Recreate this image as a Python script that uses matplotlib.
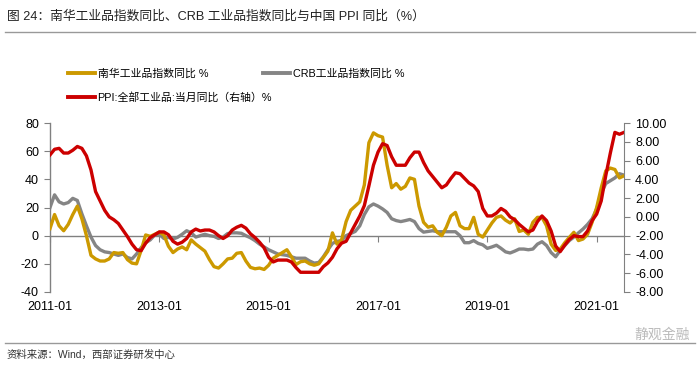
import numpy as np
import matplotlib.pyplot as plt
from matplotlib.lines import Line2D

plt.rcParams['font.family'] = ['Liberation Sans', 'Noto Sans CJK SC', 'DejaVu Sans']
plt.rcParams['axes.unicode_minus'] = False

# 月度数据 2011-01 ~ 2021-07
months = np.arange(127)
tick_pos = [0, 24, 48, 72, 96, 120]
tick_labels = ['2011-01', '2013-01', '2015-01', '2017-01', '2019-01', '2021-01']

# 南华工业品指数同比 %
nanhua = [5, 15, 7, 3.5, 8, 15, 21, 12, 0, -14, -16.5, -18,
          -18, -16.5, -12, -12.5, -12, -17, -19.5, -20, -10.5, 0.5, -0.5, 1,
          2.5, 0.5, -7.5, -12, -9.5, -8, -10, -3, -6, -8.5, -11, -17,
          -22, -23, -20, -16.5, -16, -12.5, -12, -18, -22.5, -23.5, -23, -24,
          -21, -16, -14, -12, -10, -15, -20.5, -18.5, -18, -20, -21, -20,
          -15.5, -11, 2, -6, -3, 10, 18, 21, 24, 36, 66, 73,
          71, 70, 50, 34, 37, 33, 35, 41, 40, 21, 9.5, 6,
          7, 2.4, 0, 6, 14, 16.5, 7, 5, 5, 13, 1, -1,
          4, 9, 13, 14, 11, 9, 12, 3, 4, 1, 9.5, 13,
          13, 7, -6, -10.5, -9.5, -5, -1.2, 2.4, -3.5, -2.4, 1, 9.5,
          20, 34, 46, 48, 47, 41, 42.5]

# CRB工业品指数同比 %
crb = [20, 29, 24, 22.5, 23.5, 26.5, 25, 15.5, 7, -1, -7, -10,
       -11.5, -12, -13, -14, -13, -15.5, -16.5, -13, -8.5, -5, -3, 0.5,
       1, -2, -1.2, -2.4, -1.2, 1, 3.5, 2, -1, 0, 1, 0,
       -0.5, -2, -1, 1.5, 2, 2, 1.7, 0, -1.5, -3.5, -6, -8,
       -10, -11.5, -13, -13.5, -14, -15, -16, -16, -16, -18, -19.5, -19,
       -15, -10, -5.5, -4, -3.5, 0, 1.5, 3, 7, 15, 20.5, 22.5,
       21, 19, 16.5, 12, 10.7, 10, 10.7, 11.5, 10, 5, 2.5, 3,
       3.5, 2.8, 2.8, 2.8, 2.8, 2.8, 0, -5, -5, -3.5, -5.5, -6.5,
       -9, -8, -6.8, -9, -11.5, -12.3, -11, -9.5, -9.5, -10, -9.5, -6,
       -4.3, -7, -12, -15, -10.5, -7, -3.5, -1, 2, 4.7, 8, 12,
       19, 30, 37, 39, 41, 44, 43]

# PPI:全部工业品:当月同比 %（右轴）
ppi = [6.6, 7.2, 7.3, 6.8, 6.8, 7.1, 7.5, 7.3, 6.5, 5.0, 2.7, 1.7,
       0.7, 0.0, -0.3, -0.7, -1.4, -2.1, -2.9, -3.5, -3.6, -2.8, -2.2, -1.9,
       -1.6, -1.6, -1.9, -2.6, -2.9, -2.7, -2.3, -1.6, -1.3, -1.5, -1.4, -1.4,
       -1.6, -2.0, -2.3, -2.0, -1.4, -1.1, -0.9, -1.2, -1.8, -2.2, -2.7, -3.3,
       -4.3, -4.8, -4.6, -4.6, -4.6, -4.8, -5.4, -5.9, -5.9, -5.9, -5.9, -5.9,
       -5.3, -4.9, -4.3, -3.4, -2.8, -2.6, -1.7, -0.8, 0.1, 1.2, 3.3, 5.5,
       6.9, 7.8, 7.6, 6.4, 5.5, 5.5, 5.5, 6.3, 6.9, 6.9, 5.8, 4.9,
       4.3, 3.7, 3.1, 3.4, 4.1, 4.7, 4.6, 4.1, 3.6, 3.3, 2.7, 0.9,
       0.1, 0.1, 0.4, 0.9, 0.6, 0.0, -0.3, -0.8, -1.2, -1.6, -1.4, -0.5,
       0.1, -0.4, -1.5, -3.1, -3.7, -3.0, -2.4, -2.0, -2.1, -2.1, -1.5, -0.4,
       0.3, 1.7, 4.4, 6.8, 9.0, 8.8, 9.0]

gold = '#CC9900'
grey = '#858585'
red = '#CC0000'
axis_c = '#808080'

fig = plt.figure(figsize=(7, 3.68), dpi=100)

# 标题与分隔线
fig.text(0.01, 0.955, '图 24：南华工业品指数同比、CRB 工业品指数同比与中国 PPI 同比（%）',
         fontsize=9.2, va='center', ha='left', color='#222222')
fig.add_artist(Line2D([0.007, 0.993], [0.913, 0.913], color='#999999', lw=1))
fig.add_artist(Line2D([0.007, 0.993], [0.068, 0.068], color='#999999', lw=1))
fig.text(0.01, 0.035, '资料来源：Wind，西部证券研发中心', fontsize=7.5, va='center',
         ha='left', color='#333333')
fig.text(0.985, 0.09, '静观金融', fontsize=10, va='center', ha='right', color='#bbbbbb')

ax = fig.add_axes([50 / 700, 1 - 292 / 368, 574 / 700, 169 / 368])
ax.plot(months, nanhua, color=gold, lw=2.4, zorder=3)
ax.plot(months, crb, color=grey, lw=2.4, zorder=2)
ax.set_xlim(0, 126)
ax.set_ylim(-40, 80)
ax.set_yticks(range(-40, 81, 20))
ax.set_xticks(tick_pos)
ax.set_xticklabels(tick_labels)
ax.spines['top'].set_visible(False)
ax.spines['right'].set_visible(False)
ax.spines['bottom'].set_position(('data', 0))
for s in ['left', 'bottom']:
    ax.spines[s].set_color(axis_c)
    ax.spines[s].set_linewidth(1)
ax.tick_params(axis='x', direction='out', length=4, color=axis_c, pad=43, labelsize=9)
ax.tick_params(axis='y', direction='out', length=4, color=axis_c, pad=4, labelsize=9)

ax2 = ax.twinx()
ax2.plot(months, ppi, color=red, lw=2.4)
ax2.set_ylim(-8, 10)
ax2.set_yticks(range(-8, 11, 2))
ax2.set_yticklabels(['%.2f' % v for v in range(-8, 11, 2)])
for s in ['top', 'left', 'bottom']:
    ax2.spines[s].set_visible(False)
ax2.spines['right'].set_color(axis_c)
ax2.tick_params(axis='y', direction='out', length=4, color=axis_c, pad=4, labelsize=9)

handles = [Line2D([], [], color=gold, lw=2.8), Line2D([], [], color=red, lw=2.8),
           Line2D([], [], color=grey, lw=2.8)]
labels = ['南华工业品指数同比 %', 'PPI:全部工业品:当月同比（右轴）%', 'CRB工业品指数同比 %']
fig.legend(handles, labels, ncol=2, frameon=False, fontsize=7.8,
           loc='upper left', bbox_to_anchor=(58 / 700, 1 - 59 / 368),
           handlelength=2.5, handletextpad=0.25, columnspacing=-0.8, labelspacing=1.15)

fig.savefig('out.png', dpi=100)
